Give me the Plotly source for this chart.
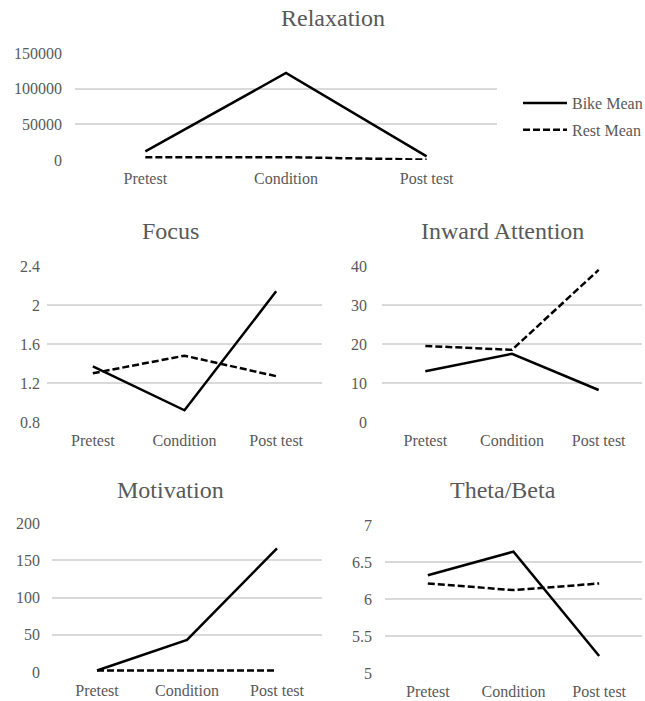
import plotly.graph_objects as go

W, H = 645, 701
categories = ["Pretest", "Condition", "Post test"]

relax_bike = [12000, 122000, 5000]
relax_rest = [4000, 4000, 500]
focus_bike = [1.37, 0.92, 2.14]
focus_rest = [1.30, 1.48, 1.27]
inward_bike = [13, 17.5, 8.2]
inward_rest = [19.5, 18.5, 39]
motiv_bike = [2, 43, 166]
motiv_rest = [2, 2, 2]
theta_bike = [6.32, 6.64, 5.23]
theta_rest = [6.21, 6.12, 6.21]

titles = ["Relaxation", "Focus", "Inward Attention", "Motivation", "Theta/Beta"]
y_ranges = [[0, 150000], [0.8, 2.4], [0, 40], [0, 200], [5, 7]]
y_dticks = [50000, 0.4, 10, 50, 0.5]
series = [(relax_bike, relax_rest), (focus_bike, focus_rest), (inward_bike, inward_rest),
          (motiv_bike, motiv_rest), (theta_bike, theta_rest)]

# pixel boxes (left, right, top, bottom)
boxes = [(75, 497, 53, 160), (47, 322, 266, 422), (382, 642, 266, 422),
         (52, 322, 523, 672), (385, 642, 525, 673)]
title_pos = [(333, 18), (170, 231), (502, 231), (170, 490), (503, 490)]
standoffs = [12, 6, 14, 11, 12]

GRAY = "#595959"
FONT = "Liberation Serif, Times New Roman, DejaVu Serif, serif"
DASH = "7px,3px"

fig = go.Figure()
layout = {}
for i, (box, (b, r)) in enumerate(zip(boxes, series)):
    n = "" if i == 0 else str(i + 1)
    xa, ya = "x" + n, "y" + n
    fig.add_trace(go.Scatter(x=categories, y=b, mode="lines", name="Bike Mean",
                             line=dict(color="black", width=2.5),
                             xaxis=xa, yaxis=ya, showlegend=(i == 0), legendgroup="b"))
    fig.add_trace(go.Scatter(x=categories, y=r, mode="lines", name="Rest Mean",
                             line=dict(color="black", width=2.5, dash=DASH),
                             xaxis=xa, yaxis=ya, showlegend=(i == 0), legendgroup="r"))
    l, rr, t, bt = box
    layout["xaxis" + n] = dict(domain=[l / W, rr / W], anchor=ya, range=[-0.5, 2.5],
                               type="category", automargin=False,
                               showgrid=False, zeroline=False, showline=False, ticks="",
                               ticklabelstandoff=7,
                               tickfont=dict(family=FONT, size=16, color=GRAY),
                               fixedrange=True)
    layout["yaxis" + n] = dict(domain=[1 - bt / H, 1 - t / H], anchor=xa,
                               range=y_ranges[i], dtick=y_dticks[i], tick0=y_ranges[i][0],
                               automargin=False, tickformat="d" if i == 0 else "",
                               showgrid=True, gridcolor="#d9d9d9", gridwidth=2,
                               zeroline=False, showline=False, ticks="",
                               ticklabelstandoff=standoffs[i],
                               tickfont=dict(family=FONT, size=16, color=GRAY),
                               fixedrange=True)

annotations = []
for txt, (px, py) in zip(titles, title_pos):
    annotations.append(dict(text=txt, x=px / W, y=1 - py / H, xref="paper", yref="paper",
                            xanchor="center", yanchor="middle", showarrow=False,
                            font=dict(family=FONT, size=24, color=GRAY)))

fig.update_layout(
    **layout,
    template="none",
    font=dict(family=FONT, size=16, color=GRAY),
    annotations=annotations,
    width=W, height=H, autosize=False,
    margin=dict(l=0, r=0, t=0, b=0, pad=0, autoexpand=False),
    paper_bgcolor="white", plot_bgcolor="white",
    showlegend=True,
    legend=dict(x=518 / W, y=1 - 86 / H, xanchor="left", yanchor="top",
                font=dict(family=FONT, size=16, color=GRAY),
                bgcolor="rgba(0,0,0,0)", tracegroupgap=3, itemwidth=44),
)
fig.write_html("out.html", config={"displayModeBar": False},
               post_script="document.body.style.margin='0';document.body.style.overflow='hidden';")
